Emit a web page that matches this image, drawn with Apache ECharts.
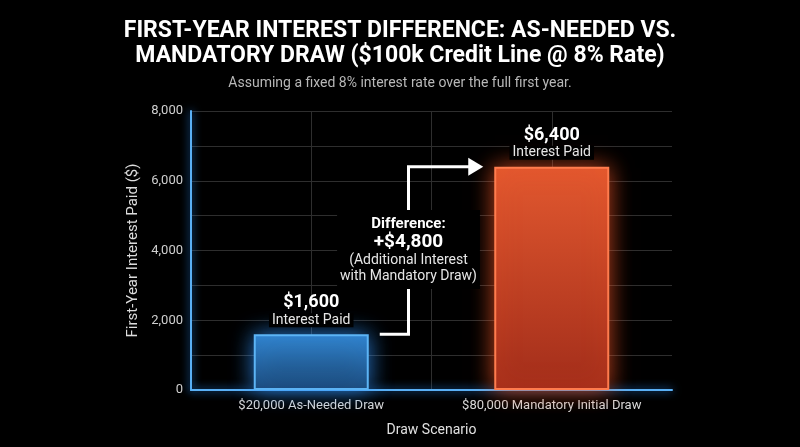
<!DOCTYPE html>
<html>
<head>
<meta charset="utf-8">
<script src="https://cdn.jsdelivr.net/npm/echarts@6/dist/echarts.min.js"></script>
<style>
  html, body { margin: 0; padding: 0; background: #000; }
  #chart { width: 800px; height: 447px; }
</style>
</head>
<body>
<div id="chart"></div>
<script>
const categories = ['$20,000 As-Needed Draw', '$80,000 Mandatory Initial Draw']
const interestPaid = [1600, 6400]
const yTicks = { min: 0, max: 8000, interval: 2000 }

const FONT = 'Roboto, "Noto Sans", sans-serif'
const money = v => '$' + v.toLocaleString('en-US')

const chart = echarts.init(document.getElementById('chart'))

const barStyles = [
  {
    color: new echarts.graphic.LinearGradient(0, 0, 0, 1, [
      { offset: 0, color: '#3183cc' },
      { offset: 1, color: '#1a4674' }
    ]),
    borderColor: '#5cb4f5', borderWidth: 2,
    shadowBlur: 22, shadowColor: 'rgba(50,150,255,0.8)'
  },
  {
    color: new echarts.graphic.LinearGradient(0, 0, 0, 1, [
      { offset: 0, color: '#e2582f' },
      { offset: 1, color: '#a22d1a' }
    ]),
    borderColor: '#ff7c4e', borderWidth: 2,
    shadowBlur: 22, shadowColor: 'rgba(255,90,40,0.75)'
  }
]

const option = {
  backgroundColor: '#000',
  animation: false,
  title: [
    {
      text: 'FIRST-YEAR INTEREST DIFFERENCE: AS-NEEDED VS.\nMANDATORY DRAW ($100k Credit Line @ 8% Rate)',
      left: 'center', top: 14,
      textStyle: { color: '#fff', fontSize: 23, fontWeight: 'bold', lineHeight: 25, fontFamily: FONT }
    },
    {
      text: 'Assuming a fixed 8% interest rate over the full first year.',
      left: 'center', top: 70,
      textStyle: { color: '#b8b8b8', fontSize: 14, fontWeight: 'normal', lineHeight: 16, fontFamily: FONT }
    }
  ],
  grid: { left: 191, right: 128, top: 111, bottom: 57 },
  xAxis: [
    {
      type: 'category',
      data: categories,
      name: 'Draw Scenario',
      nameLocation: 'middle',
      nameGap: 33,
      nameTextStyle: { color: '#e0e0e0', fontSize: 14, fontFamily: FONT },
      axisLine: { lineStyle: { color: '#5ab0f5', width: 2, shadowBlur: 8, shadowColor: '#2a8fff' } },
      axisTick: { show: false },
      axisLabel: { color: '#d8d8d8', fontSize: 13, margin: 9, fontFamily: FONT },
      splitLine: { show: false }
    },
    {
      type: 'value',
      min: 0, max: 4, interval: 1,
      show: true,
      axisLine: { show: false },
      axisTick: { show: false },
      axisLabel: { show: false },
      splitLine: {
        show: true,
        lineStyle: { color: ['rgba(0,0,0,0)', '#2e2e2e', '#2e2e2e', '#2e2e2e', 'rgba(0,0,0,0)'], width: 1 }
      }
    }
  ],
  yAxis: {
    type: 'value',
    min: yTicks.min, max: yTicks.max, interval: yTicks.interval,
    name: 'First-Year Interest Paid ($)',
    nameLocation: 'middle',
    nameGap: 38,
    nameTextStyle: { color: '#dcdcdc', fontSize: 15, fontFamily: FONT },
    axisLine: { show: true, lineStyle: { color: '#5ab0f5', width: 2, shadowBlur: 8, shadowColor: '#2a8fff' } },
    axisTick: { show: false },
    axisLabel: {
      color: '#cfcfcf', fontSize: 13, margin: 8, fontFamily: FONT,
      formatter: v => v.toLocaleString('en-US')
    },
    splitLine: { lineStyle: { color: '#2e2e2e', width: 1 } },
    minorTick: { show: false, splitNumber: 2 },
    minorSplitLine: { show: true, lineStyle: { color: '#2e2e2e', width: 1 } }
  },
  series: [
    {
      type: 'bar',
      xAxisIndex: 0,
      barWidth: 115,
      data: interestPaid.map((v, i) => ({ value: v, itemStyle: barStyles[i] })),
      label: {
        show: true,
        position: 'top',
        distance: 6,
        formatter: p => '{v|' + money(p.value) + '}\n{s|Interest Paid}',
        rich: {
          v: { color: '#fff', fontSize: 18, fontWeight: 'bold', lineHeight: 19, fontFamily: FONT },
          s: { color: '#e6e6e6', fontSize: 14, lineHeight: 16, fontFamily: FONT, backgroundColor: '#000', padding: [0, 3] }
        }
      },
      z: 3
    }
  ]
}

chart.setOption(option)

// elbow arrow + difference note, positioned from the data
const pA = chart.convertToPixel({ seriesIndex: 0 }, [0, interestPaid[0]])
const pB = chart.convertToPixel({ seriesIndex: 0 }, [1, interestPaid[1]])
const half = 57.5
const boundary = (pA[0] + pB[0]) / 2
const vx = boundary - 23
const x0 = pA[0] + half + 11
const tip = pB[0] - half - 11
const midY = chart.convertToPixel({ yAxisIndex: 0 }, (interestPaid[0] + interestPaid[1]) / 2)
const diff = interestPaid[1] - interestPaid[0]

chart.setOption({
  graphic: [
    {
      type: 'polyline',
      z: 10,
      shape: { points: [[x0, pA[1]], [vx, pA[1]], [vx, pB[1]], [tip - 13, pB[1]]] },
      style: { stroke: '#fff', lineWidth: 3, fill: null, lineJoin: 'miter' }
    },
    {
      type: 'polygon',
      z: 10,
      shape: { points: [[tip - 15, pB[1] - 9], [tip, pB[1]], [tip - 15, pB[1] + 9]] },
      style: { fill: '#fff' }
    },
    {
      type: 'text',
      z: 11,
      x: vx,
      y: midY - 1,
      style: {
        text: '{a|Difference:}\n{b|+' + money(diff) + '}\n{c|(Additional Interest}\n{c|with Mandatory Draw)}',
        align: 'center',
        verticalAlign: 'middle',
        backgroundColor: '#000',
        padding: [5, 3],
        rich: {
          a: { fill: '#fff', fontSize: 15, fontWeight: 'bold', lineHeight: 18, fontFamily: FONT },
          b: { fill: '#fff', fontSize: 19, fontWeight: 'bold', lineHeight: 19, fontFamily: FONT },
          c: { fill: '#e6e6e6', fontSize: 14, lineHeight: 16, fontFamily: FONT }
        }
      }
    }
  ]
})

window.addEventListener('resize', () => chart.resize())
</script>
</body>
</html>
